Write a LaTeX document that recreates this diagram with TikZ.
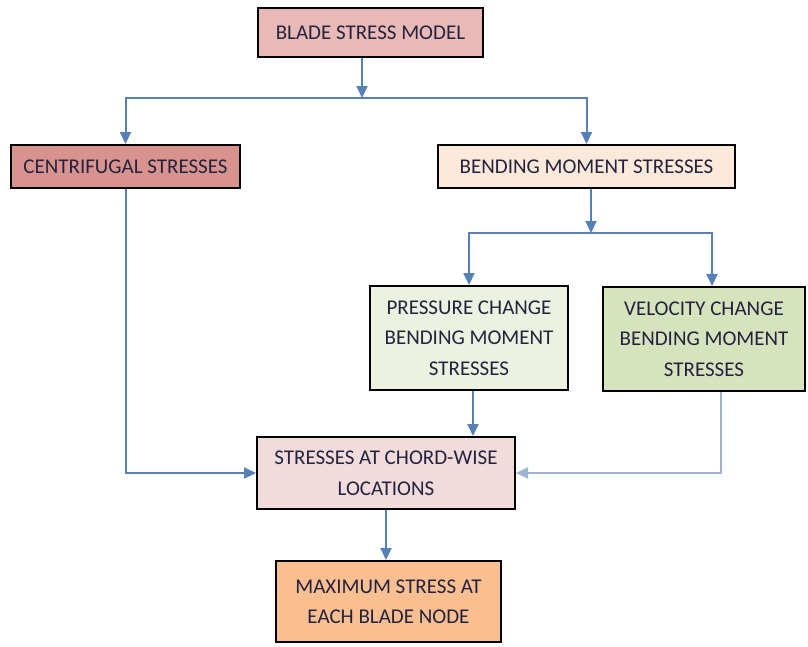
\documentclass[tikz,border=0pt]{standalone}
\usepackage{fontspec}
\setmainfont{Carlito}
\usepackage{tikz}
\usetikzlibrary{arrows.meta}

\definecolor{flowblue}{HTML}{5580BA}
\definecolor{paleblue}{HTML}{9DB3D2}
\definecolor{inkblue}{HTML}{23233F}
\definecolor{modelrose}{HTML}{E8B9B6}
\definecolor{centrirose}{HTML}{D9938F}
\definecolor{bendpeach}{HTML}{FDE9D9}
\definecolor{presgreen}{HTML}{EDF1DF}
\definecolor{velgreen}{HTML}{D7E3BD}
\definecolor{chordpink}{HTML}{F2DCDB}
\definecolor{maxorange}{HTML}{F9BF90}

\begin{document}
\begin{tikzpicture}[x=1pt, y=-1pt]
    \tikzstyle{box}=[draw=black, line width=2pt, align=center, inner sep=0pt,
                     text=inkblue, font=\fontsize{21}{30.5}\selectfont]
    \tikzstyle{flow}=[draw=flowblue, line width=2pt,
                      -{Triangle[width=11pt,length=12pt]}]
    \useasboundingbox[fill=white] (0,0) rectangle (808,646);

    \node[box, fill=modelrose, minimum width=225pt, minimum height=49pt]
        (model) at (370.5,32.5) {BLADE STRESS MODEL};
    \node[box, fill=centrirose, minimum width=229pt, minimum height=43pt]
        (centri) at (125.5,166.5) {CENTRIFUGAL STRESSES};
    \node[box, fill=bendpeach, minimum width=297pt, minimum height=43pt]
        (bending) at (586.5,166.5) {BENDING MOMENT STRESSES};
    \node[box, fill=presgreen, minimum width=198pt, minimum height=104pt]
        (pressure) at (469,338) {PRESSURE CHANGE\\BENDING MOMENT\\STRESSES};
    \node[box, fill=velgreen, minimum width=202pt, minimum height=104pt]
        (velocity) at (704,339) {VELOCITY CHANGE\\BENDING MOMENT\\STRESSES};
    \node[box, fill=chordpink, minimum width=258pt, minimum height=72pt]
        (chord) at (386,473) {STRESSES AT CHORD-WISE\\LOCATIONS};
    \node[box, fill=maxorange, minimum width=225pt, minimum height=81pt]
        (maxstress) at (388.5,601.5) {MAXIMUM STRESS AT\\EACH BLADE NODE};

    \coordinate (split1) at (362,98);
    \coordinate (split2) at (591,233);

    \draw[flow] (model.south -| split1) -- (split1);
    \draw[flow] (split1) -| (centri.north);
    \draw[flow] (split1) -| (bending.north);
    \draw[flow] (bending.south -| split2) -- (split2);
    \draw[flow] (split2) -| (pressure.north);
    \draw[flow] (split2) -| ([xshift=8pt]velocity.north);
    \draw[flow] ([xshift=4pt]pressure.south) -- ([xshift=4pt]pressure.south |- chord.north);
    \draw[flow] (centri.south) |- (chord.west);
    \draw[flow, draw=paleblue] ([xshift=17pt]velocity.south) |- (chord.east);
    \draw[flow] (chord.south) -- (chord.south |- maxstress.north);
\end{tikzpicture}
\end{document}
